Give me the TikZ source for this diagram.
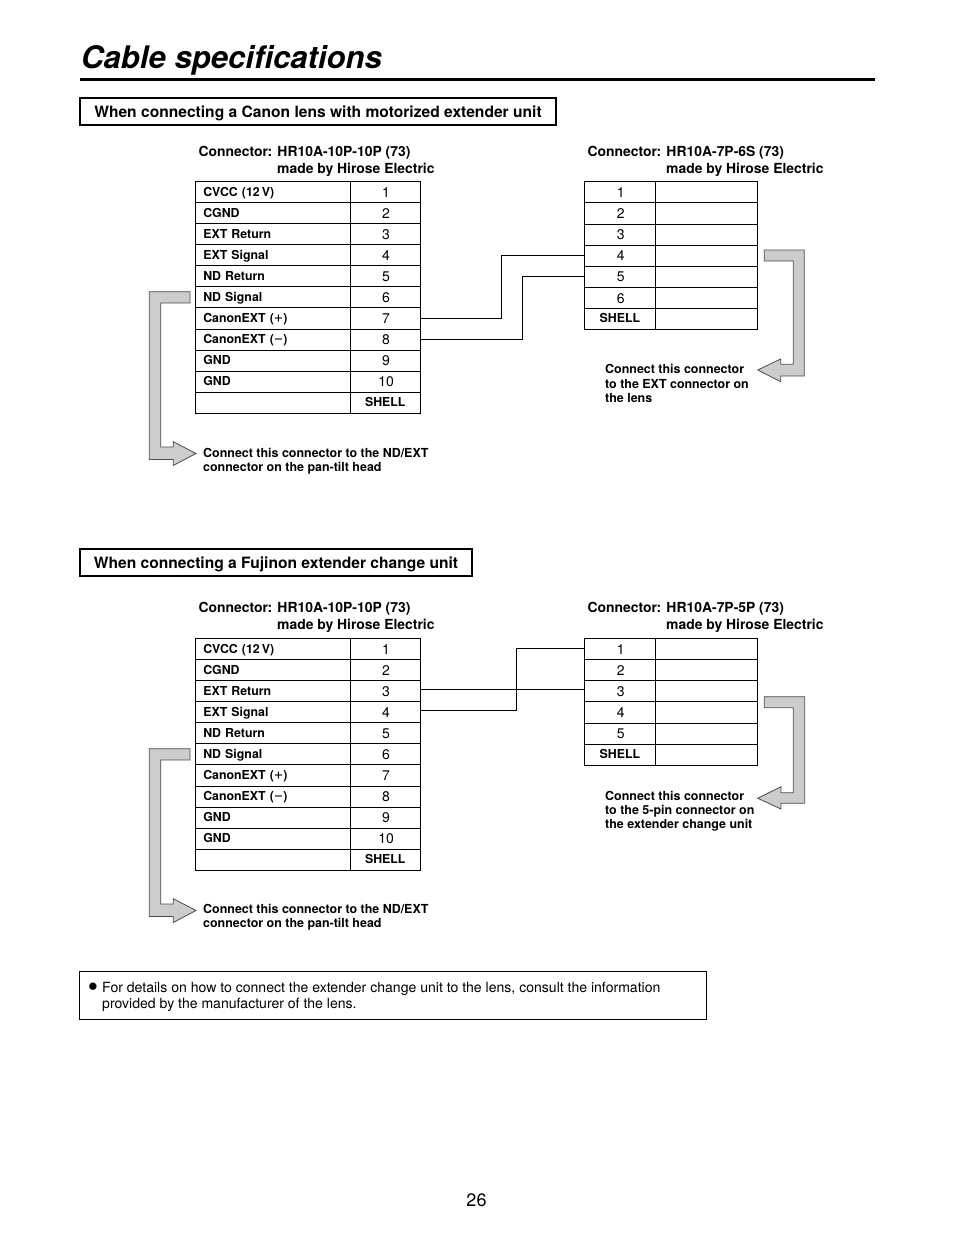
\documentclass[tikz,border=0pt]{standalone}
\usepackage{fontspec}
\setmainfont{TeX Gyre Heros}
\newfontfamily\dotfont{Liberation Sans}
\newcommand{\plusmark}{{\mdseries\fontsize{16}{16}\selectfont +}}
\newcommand{\minusmark}{{\mdseries\fontsize{16}{16}\selectfont −}}
\tikzset{
  pinname/.style={draw,anchor=north west,outer sep=0pt,minimum width=155pt,minimum height=21.1pt,text width=139pt,text height=9pt,text depth=0pt,inner xsep=8pt,inner ysep=0pt,align=left,font=\bfseries\fontsize{12.35}{12.35}\selectfont},
  pinnum/.style={draw,anchor=north west,outer sep=0pt,minimum height=21.1pt,text height=11pt,text depth=0pt,inner xsep=0pt,inner ysep=0pt,align=center,font=\fontsize{14}{14}\selectfont},
  shellnum/.style={pinnum,text height=7.5pt,font=\bfseries\fontsize{12.35}{12.35}\selectfont},
  capt/.style={anchor=north west,inner sep=0pt,align=left,font=\bfseries\fontsize{13.9}{16.2}\selectfont},
  hint/.style={anchor=north west,inner sep=0pt,align=left,font=\bfseries\fontsize{12.45}{14.4}\selectfont},
  headbox/.style={draw,line width=2.2pt,anchor=north west,outer sep=0pt,minimum height=27.3pt,text height=11.5pt,text depth=0pt,inner sep=0pt,font=\bfseries\fontsize{15.6}{15.6}\selectfont},
  wire/.style={line width=.9pt},
  bigarrow/.style={fill=black!20,draw=black!70,line width=.8pt,line join=miter}
}
\begin{document}
\begin{tikzpicture}[x=1pt,y=-1pt]
\useasboundingbox (0,0) rectangle (954,1237);
% title
\node (title) [anchor=base west,inner sep=0pt,font=\bfseries\itshape\fontsize{31.1}{31.1}\selectfont] at (81,68.3) {Cable specifications};
\coordinate (ruleL) at (80,79.3);
\coordinate (ruleR) at (875,79.3);
\draw[line width=3pt] (ruleL) -- (ruleR);
% first section
\node (headA) [headbox,minimum width=476pt] at (80,97.8) {When connecting a Canon lens with motorized extender unit};
\node (captAL) [capt] at (198.5,146.3) {Connector: HR10A-10P-10P (73)\\\hspace*{78.5pt}made by Hirose Electric};
\node (captAR) [capt] at (587.5,146.3) {Connector: HR10A-7P-6S (73)\\\hspace*{78.5pt}made by Hirose Electric};
\foreach \sig/\pin [count=\row] in {CVCC (12\,V)/1,CGND/2,EXT Return/3,EXT Signal/4,ND Return/5,ND Signal/6,CanonEXT (\plusmark)/7,CanonEXT (\minusmark)/8,GND/9,GND/10,{}/SHELL} {
  \node (al\row) [pinname] at (195.3,{181+(\row-1)*21.1}) {\sig};
  \ifnum\row=11
    \node (an\row) [shellnum,minimum width=70pt] at (350.3,{181+(\row-1)*21.1}) {\pin};
  \else
    \node (an\row) [pinnum,minimum width=70pt] at (350.3,{181+(\row-1)*21.1}) {\hspace*{1.5pt}\pin};
  \fi
}
\foreach \pin [count=\row] in {1,2,3,4,5,6,SHELL} {
  \ifnum\row=7
    \node (bn\row) [shellnum,minimum width=71.3pt] at (584.3,{181.5+(\row-1)*21.1}) {\pin};
  \else
    \node (bn\row) [pinnum,minimum width=71.3pt] at (584.3,{181.5+(\row-1)*21.1}) {\hspace*{1.5pt}\pin};
  \fi
  \node (bx\row) [pinnum,minimum width=102pt] at (655.6,{181.5+(\row-1)*21.1}) {};
}
\coordinate (kinkA) at (501.7,0);
\coordinate (kinkB) at (522.7,0);
\draw[wire] (an7.east) -- (an7.east -| kinkA) -- (bn4.west -| kinkA) -- (bn4.west);
\draw[wire] (an8.east) -- (an8.east -| kinkB) -- (bn5.west -| kinkB) -- (bn5.west);
\draw[bigarrow] (190,291.7) -- (149.3,291.7) -- (149.3,459.5) -- (173.3,459.5) -- (173.3,465.5) -- (196,453.5) -- (173.3,441.7) -- (173.3,447) -- (160.8,447) -- (160.8,303) -- (190,303) -- cycle;
\draw[bigarrow] (764.3,250) -- (804.3,250) -- (804.3,376) -- (780.7,376) -- (780.7,381.7) -- (757.7,370) -- (780.7,359) -- (780.7,364.3) -- (793.3,364.3) -- (793.3,261) -- (764.3,261) -- cycle;
\node (hintAL) [hint] at (203,447.6) {Connect this connector to the ND/EXT\\connector on the pan-tilt head};
\node (hintAR) [hint] at (605,364.3) {Connect this connector\\to the EXT connector on\\the lens};
% second section
\node (headB) [headbox,minimum width=392pt] at (80,549) {When connecting a Fujinon extender change unit};
\node (captBL) [capt] at (198.5,602.3) {Connector: HR10A-10P-10P (73)\\\hspace*{78.5pt}made by Hirose Electric};
\node (captBR) [capt] at (587.5,602.3) {Connector: HR10A-7P-5P (73)\\\hspace*{78.5pt}made by Hirose Electric};
\foreach \sig/\pin [count=\row] in {CVCC (12\,V)/1,CGND/2,EXT Return/3,EXT Signal/4,ND Return/5,ND Signal/6,CanonEXT (\plusmark)/7,CanonEXT (\minusmark)/8,GND/9,GND/10,{}/SHELL} {
  \node (cl\row) [pinname] at (195.3,{638+(\row-1)*21.1}) {\sig};
  \ifnum\row=11
    \node (cn\row) [shellnum,minimum width=70pt] at (350.3,{638+(\row-1)*21.1}) {\pin};
  \else
    \node (cn\row) [pinnum,minimum width=70pt] at (350.3,{638+(\row-1)*21.1}) {\hspace*{1.5pt}\pin};
  \fi
}
\foreach \pin [count=\row] in {1,2,3,4,5,SHELL} {
  \ifnum\row=6
    \node (dn\row) [shellnum,minimum width=71.3pt] at (584.3,{638.3+(\row-1)*21.1}) {\pin};
  \else
    \node (dn\row) [pinnum,minimum width=71.3pt] at (584.3,{638.3+(\row-1)*21.1}) {\hspace*{1.5pt}\pin};
  \fi
  \node (dx\row) [pinnum,minimum width=102pt] at (655.6,{638.3+(\row-1)*21.1}) {};
}
\coordinate (kinkC) at (516.5,0);
\draw[wire] ([yshift=1.5pt]cn3.east) -- ([yshift=1.5pt]cn3.east -| dn3.west);
\draw[wire] ([yshift=1.5pt]cn4.east) -- ([yshift=1.5pt]cn4.east -| kinkC) -- (dn1.west -| kinkC) -- (dn1.west);
\draw[bigarrow] (190,748.7) -- (149.3,748.7) -- (149.3,916.5) -- (173.3,916.5) -- (173.3,922.5) -- (196,910.5) -- (173.3,898.7) -- (173.3,904) -- (160.8,904) -- (160.8,760) -- (190,760) -- cycle;
\draw[bigarrow] (764.3,696.7) -- (804.7,696.7) -- (804.7,803.3) -- (781,803.3) -- (781,809) -- (757.7,798.3) -- (781,786.7) -- (781,792.7) -- (793.3,792.7) -- (793.3,707.7) -- (764.3,707.7) -- cycle;
\node (hintBL) [hint] at (203,903.6) {Connect this connector to the ND/EXT\\connector on the pan-tilt head};
\node (hintBR) [hint] at (605,790.6) {Connect this connector\\to the 5-pin connector on\\the extender change unit};
% note and page number
\node (notebox) [draw,line width=.9pt,anchor=north west,outer sep=0pt,minimum width=627pt,minimum height=48pt] at (79.5,971.5) {};
\node (notedot) [inner sep=0pt,font=\dotfont\fontsize{17}{17}\selectfont] at (93,987) {●};
\node (notetext) [anchor=north west,inner sep=0pt,align=left,font=\fontsize{14.05}{16}\selectfont] at (102,982) {For details on how to connect the extender change unit to the lens, consult the information\\provided by the manufacturer of the lens.};
\node (pageno) [inner sep=0pt,font=\fontsize{18}{18}\selectfont] at (476.5,1200) {26};
\end{tikzpicture}
\end{document}
